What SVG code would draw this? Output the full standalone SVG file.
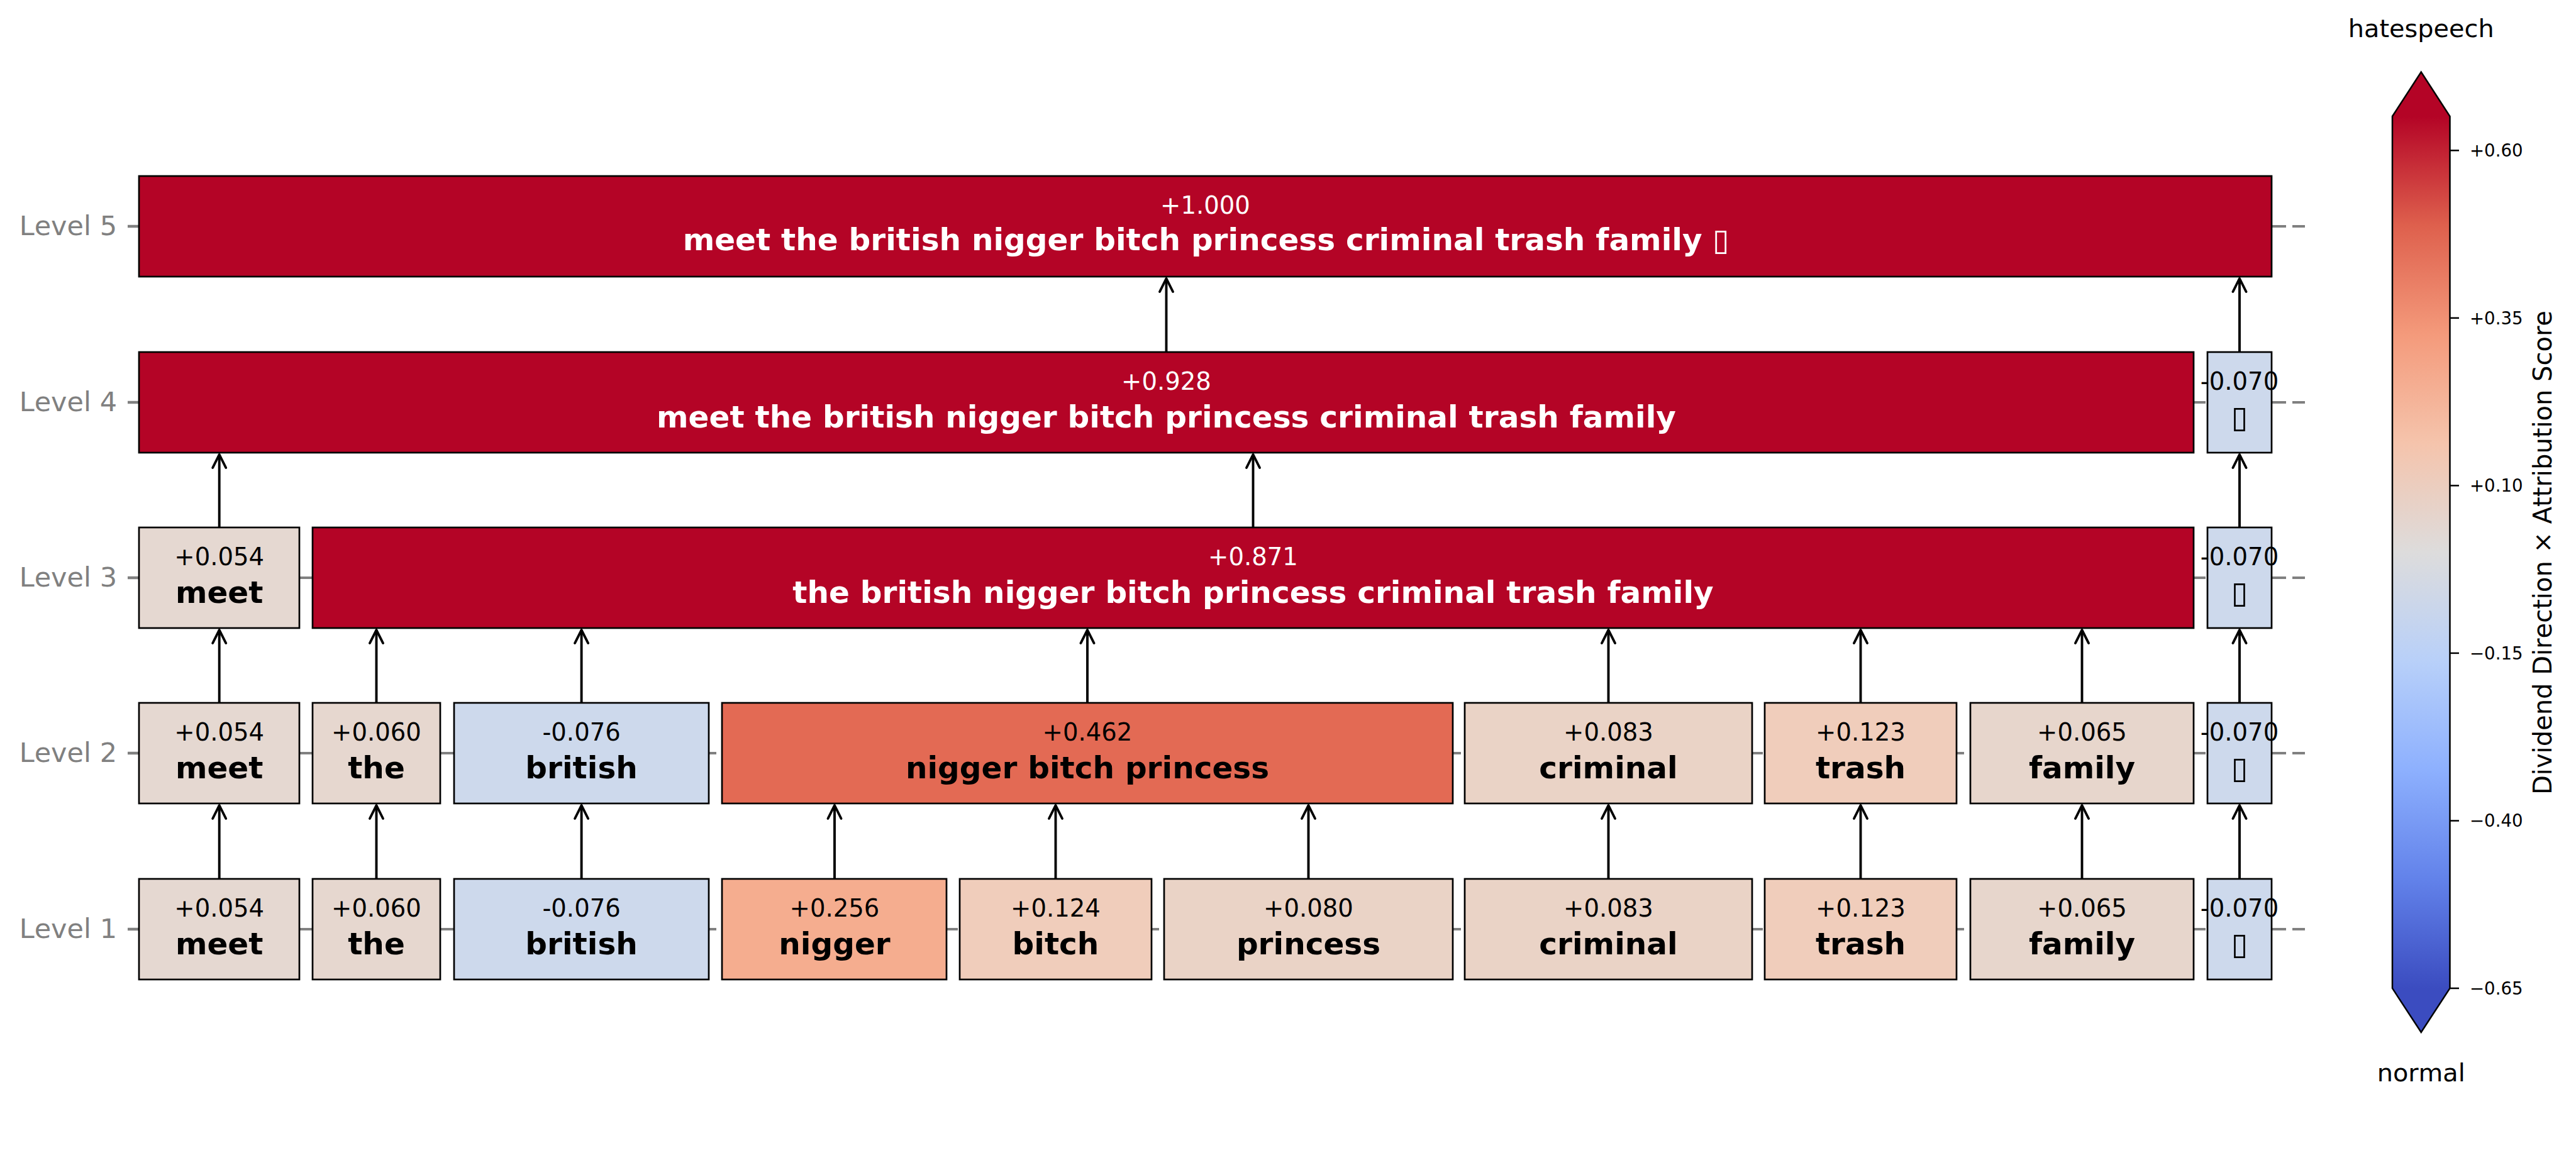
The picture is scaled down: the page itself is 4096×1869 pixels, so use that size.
<svg xmlns="http://www.w3.org/2000/svg" width="4096" height="1869" viewBox="0 0 4096 1869">
<defs>
<style>
text{font-family:"DejaVu Sans","Liberation Sans",sans-serif;font-kerning:none;font-feature-settings:"kern" 0}
.box{stroke:#000;stroke-width:2.7}
.val{font-size:38.6px;text-anchor:middle;fill:#000}
.lab{font-size:48.5px;font-weight:bold;text-anchor:middle;fill:#000}
.w{fill:#fff}
.lvl{font-size:43px;text-anchor:end;fill:#808080}
.grid{stroke:#808080;stroke-width:4;stroke-dasharray:22 10;fill:none}
.tick{stroke:#808080;stroke-width:4.5}
.arr{stroke:#000;stroke-width:3.9;fill:none;marker-end:url(#ah)}
.cbt{font-size:27.6px;fill:#000}
.cbtick{stroke:#000;stroke-width:2.5}
</style>
<marker id="ah" viewBox="-27 -16 32 32" refX="0" refY="0" markerWidth="32" markerHeight="32" markerUnits="userSpaceOnUse" orient="auto">
<path d="M -21 -10.5 L 0 0 L -21 10.5" fill="none" stroke="#000" stroke-width="3.9" stroke-linecap="round" stroke-linejoin="round"/>
</marker>
<linearGradient id="cw" gradientUnits="userSpaceOnUse" x1="0" y1="185" x2="0" y2="1572">
<stop offset="0" stop-color="#b40426"/>
<stop offset="0.125" stop-color="#de604d"/>
<stop offset="0.25" stop-color="#f49a7b"/>
<stop offset="0.375" stop-color="#f5c4ac"/>
<stop offset="0.5" stop-color="#dddcdc"/>
<stop offset="0.625" stop-color="#b8d0f9"/>
<stop offset="0.75" stop-color="#8db0fe"/>
<stop offset="0.875" stop-color="#6282ea"/>
<stop offset="1" stop-color="#3b4cc0"/>
</linearGradient>
</defs>
<rect width="4096" height="1869" fill="#fff"/>

<g id="axis">
<line class="grid" x1="221" y1="360" x2="3665" y2="360"/>
<line class="grid" x1="221" y1="640" x2="3665" y2="640"/>
<line class="grid" x1="221" y1="919" x2="3665" y2="919"/>
<line class="grid" x1="221" y1="1198" x2="3665" y2="1198"/>
<line class="grid" x1="221" y1="1478" x2="3665" y2="1478"/>
<line class="tick" x1="203" y1="360" x2="221" y2="360"/>
<line class="tick" x1="203" y1="640" x2="221" y2="640"/>
<line class="tick" x1="203" y1="919" x2="221" y2="919"/>
<line class="tick" x1="203" y1="1198" x2="221" y2="1198"/>
<line class="tick" x1="203" y1="1478" x2="221" y2="1478"/>
<text class="lvl" x="186" y="374">Level 5</text>
<text class="lvl" x="186" y="654">Level 4</text>
<text class="lvl" x="186" y="933">Level 3</text>
<text class="lvl" x="186" y="1212">Level 2</text>
<text class="lvl" x="186" y="1492">Level 1</text>
</g>

<g id="connectors">
<line class="arr" x1="348.7" y1="1398" x2="348.7" y2="1281"/>
<line class="arr" x1="598.5" y1="1398" x2="598.5" y2="1281"/>
<line class="arr" x1="924.6" y1="1398" x2="924.6" y2="1281"/>
<line class="arr" x1="1327" y1="1398" x2="1327" y2="1281"/>
<line class="arr" x1="1678.5" y1="1398" x2="1678.5" y2="1281"/>
<line class="arr" x1="2080.5" y1="1398" x2="2080.5" y2="1281"/>
<line class="arr" x1="2557.5" y1="1398" x2="2557.5" y2="1281"/>
<line class="arr" x1="2958.5" y1="1398" x2="2958.5" y2="1281"/>
<line class="arr" x1="3310.5" y1="1398" x2="3310.5" y2="1281"/>
<line class="arr" x1="3561" y1="1398" x2="3561" y2="1281"/>
<line class="arr" x1="348.7" y1="1118" x2="348.7" y2="1002"/>
<line class="arr" x1="598.5" y1="1118" x2="598.5" y2="1002"/>
<line class="arr" x1="924.6" y1="1118" x2="924.6" y2="1002"/>
<line class="arr" x1="1729" y1="1118" x2="1729" y2="1002"/>
<line class="arr" x1="2557.5" y1="1118" x2="2557.5" y2="1002"/>
<line class="arr" x1="2958.5" y1="1118" x2="2958.5" y2="1002"/>
<line class="arr" x1="3310.5" y1="1118" x2="3310.5" y2="1002"/>
<line class="arr" x1="3561" y1="1118" x2="3561" y2="1002"/>
<line class="arr" x1="348.7" y1="839" x2="348.7" y2="723"/>
<line class="arr" x1="1992.5" y1="839" x2="1992.5" y2="723"/>
<line class="arr" x1="3561" y1="839" x2="3561" y2="723"/>
<line class="arr" x1="1854.5" y1="560" x2="1854.5" y2="443"/>
<line class="arr" x1="3561" y1="560" x2="3561" y2="443"/>
</g>

<!-- Level 1 -->
<g id="l1-meet"><rect class="box" x="221" y="1398" width="255" height="160" fill="#e5d8d1"/><text class="val" x="348.7" y="1458">+0.054</text><text class="lab" x="348.7" y="1518">meet</text></g>
<g id="l1-the"><rect class="box" x="497" y="1398" width="203" height="160" fill="#e6d7cf"/><text class="val" x="598.5" y="1458">+0.060</text><text class="lab" x="598.5" y="1518">the</text></g>
<g id="l1-british"><rect class="box" x="722" y="1398" width="405" height="160" fill="#cdd9ec"/><text class="val" x="924.6" y="1458">-0.076</text><text class="lab" x="924.6" y="1518">british</text></g>
<g id="l1-nigger"><rect class="box" x="1148" y="1398" width="357" height="160" fill="#f5ad8f"/><text class="val" x="1327" y="1458">+0.256</text><text class="lab" x="1327" y="1518">nigger</text></g>
<g id="l1-bitch"><rect class="box" x="1526" y="1398" width="305" height="160" fill="#f0cdbb"/><text class="val" x="1678.5" y="1458">+0.124</text><text class="lab" x="1678.5" y="1518">bitch</text></g>
<g id="l1-princess"><rect class="box" x="1851" y="1398" width="459" height="160" fill="#ead3c6"/><text class="val" x="2080.5" y="1458">+0.080</text><text class="lab" x="2080.5" y="1518">princess</text></g>
<g id="l1-criminal"><rect class="box" x="2329" y="1398" width="457" height="160" fill="#ead3c6"/><text class="val" x="2557.5" y="1458">+0.083</text><text class="lab" x="2557.5" y="1518">criminal</text></g>
<g id="l1-trash"><rect class="box" x="2806" y="1398" width="305" height="160" fill="#f0cdbb"/><text class="val" x="2958.5" y="1458">+0.123</text><text class="lab" x="2958.5" y="1518">trash</text></g>
<g id="l1-family"><rect class="box" x="3133" y="1398" width="355" height="160" fill="#e7d6cc"/><text class="val" x="3310.5" y="1458">+0.065</text><text class="lab" x="3310.5" y="1518">family</text></g>
<g id="l1-emoji"><rect class="box" x="3510" y="1398" width="102" height="160" fill="#cdd9ec"/><text class="val" x="3561" y="1458">-0.070</text><text class="lab" x="3561" y="1518">▯</text></g>

<!-- Level 2 -->
<g id="l2-meet"><rect class="box" x="221" y="1118" width="255" height="160" fill="#e5d8d1"/><text class="val" x="348.7" y="1178">+0.054</text><text class="lab" x="348.7" y="1238">meet</text></g>
<g id="l2-the"><rect class="box" x="497" y="1118" width="203" height="160" fill="#e6d7cf"/><text class="val" x="598.5" y="1178">+0.060</text><text class="lab" x="598.5" y="1238">the</text></g>
<g id="l2-british"><rect class="box" x="722" y="1118" width="405" height="160" fill="#cdd9ec"/><text class="val" x="924.6" y="1178">-0.076</text><text class="lab" x="924.6" y="1238">british</text></g>
<g id="l2-nbp"><rect class="box" x="1148" y="1118" width="1162" height="160" fill="#e36a54"/><text class="val" x="1729" y="1178">+0.462</text><text class="lab" x="1729" y="1238">nigger bitch princess</text></g>
<g id="l2-criminal"><rect class="box" x="2329" y="1118" width="457" height="160" fill="#ead3c6"/><text class="val" x="2557.5" y="1178">+0.083</text><text class="lab" x="2557.5" y="1238">criminal</text></g>
<g id="l2-trash"><rect class="box" x="2806" y="1118" width="305" height="160" fill="#f0cdbb"/><text class="val" x="2958.5" y="1178">+0.123</text><text class="lab" x="2958.5" y="1238">trash</text></g>
<g id="l2-family"><rect class="box" x="3133" y="1118" width="355" height="160" fill="#e7d6cc"/><text class="val" x="3310.5" y="1178">+0.065</text><text class="lab" x="3310.5" y="1238">family</text></g>
<g id="l2-emoji"><rect class="box" x="3510" y="1118" width="102" height="160" fill="#cdd9ec"/><text class="val" x="3561" y="1178">-0.070</text><text class="lab" x="3561" y="1238">▯</text></g>

<!-- Level 3 -->
<g id="l3-meet"><rect class="box" x="221" y="839" width="255" height="160" fill="#e5d8d1"/><text class="val" x="348.7" y="899">+0.054</text><text class="lab" x="348.7" y="959">meet</text></g>
<g id="l3-phrase"><rect class="box" x="497" y="839" width="2991" height="160" fill="#b40426"/><text class="val w" x="1992.5" y="899">+0.871</text><text class="lab w" x="1992.5" y="959">the british nigger bitch princess criminal trash family</text></g>
<g id="l3-emoji"><rect class="box" x="3510" y="839" width="102" height="160" fill="#cdd9ec"/><text class="val" x="3561" y="899">-0.070</text><text class="lab" x="3561" y="959">▯</text></g>

<!-- Level 4 -->
<g id="l4-phrase"><rect class="box" x="221" y="560" width="3267" height="160" fill="#b40426"/><text class="val w" x="1854.5" y="620">+0.928</text><text class="lab w" x="1854.5" y="680">meet the british nigger bitch princess criminal trash family</text></g>
<g id="l4-emoji"><rect class="box" x="3510" y="560" width="102" height="160" fill="#cdd9ec"/><text class="val" x="3561" y="620">-0.070</text><text class="lab" x="3561" y="680">▯</text></g>

<!-- Level 5 -->
<g id="l5-root"><rect class="box" x="221" y="280" width="3391" height="160" fill="#b40426"/><text class="val w" x="1916.5" y="340">+1.000</text><text class="lab w" x="1085.7" y="398" style="text-anchor:start">meet the british nigger bitch princess criminal trash family <tspan x="2723">▯</tspan></text></g>

<!-- Colorbar -->
<g id="colorbar">
<text x="3849.75" y="59" font-size="39.8" text-anchor="middle" fill="#000">hatespeech</text>
<polygon points="3804,186 3849.75,114.5 3895.5,186" fill="#b40426"/>
<rect x="3804" y="185" width="91.5" height="1387" fill="url(#cw)"/>
<polygon points="3804,1571 3895.5,1571 3849.75,1642" fill="#3b4cc0"/>
<polygon points="3804,185 3849.75,114.5 3895.5,185 3895.5,1572 3849.75,1642 3804,1572" fill="none" stroke="#000" stroke-width="2.5"/>
<line class="cbtick" x1="3895.5" y1="239.3" x2="3910" y2="239.3"/>
<line class="cbtick" x1="3895.5" y1="505.8" x2="3910" y2="505.8"/>
<line class="cbtick" x1="3895.5" y1="772.4" x2="3910" y2="772.4"/>
<line class="cbtick" x1="3895.5" y1="1038.9" x2="3910" y2="1038.9"/>
<line class="cbtick" x1="3895.5" y1="1305.5" x2="3910" y2="1305.5"/>
<line class="cbtick" x1="3895.5" y1="1572" x2="3910" y2="1572"/>
<text class="cbt" x="3927" y="249">+0.60</text>
<text class="cbt" x="3927" y="515.5">+0.35</text>
<text class="cbt" x="3927" y="782">+0.10</text>
<text class="cbt" x="3927" y="1048.6">−0.15</text>
<text class="cbt" x="3927" y="1315.2">−0.40</text>
<text class="cbt" x="3927" y="1581.7">−0.65</text>
<text x="4057" y="879" font-size="40" text-anchor="middle" fill="#000" transform="rotate(-90 4057 879)">Dividend Direction × Attribution Score</text>
<text x="3849.75" y="1720" font-size="39.8" text-anchor="middle" fill="#000">normal</text>
</g>
</svg>
